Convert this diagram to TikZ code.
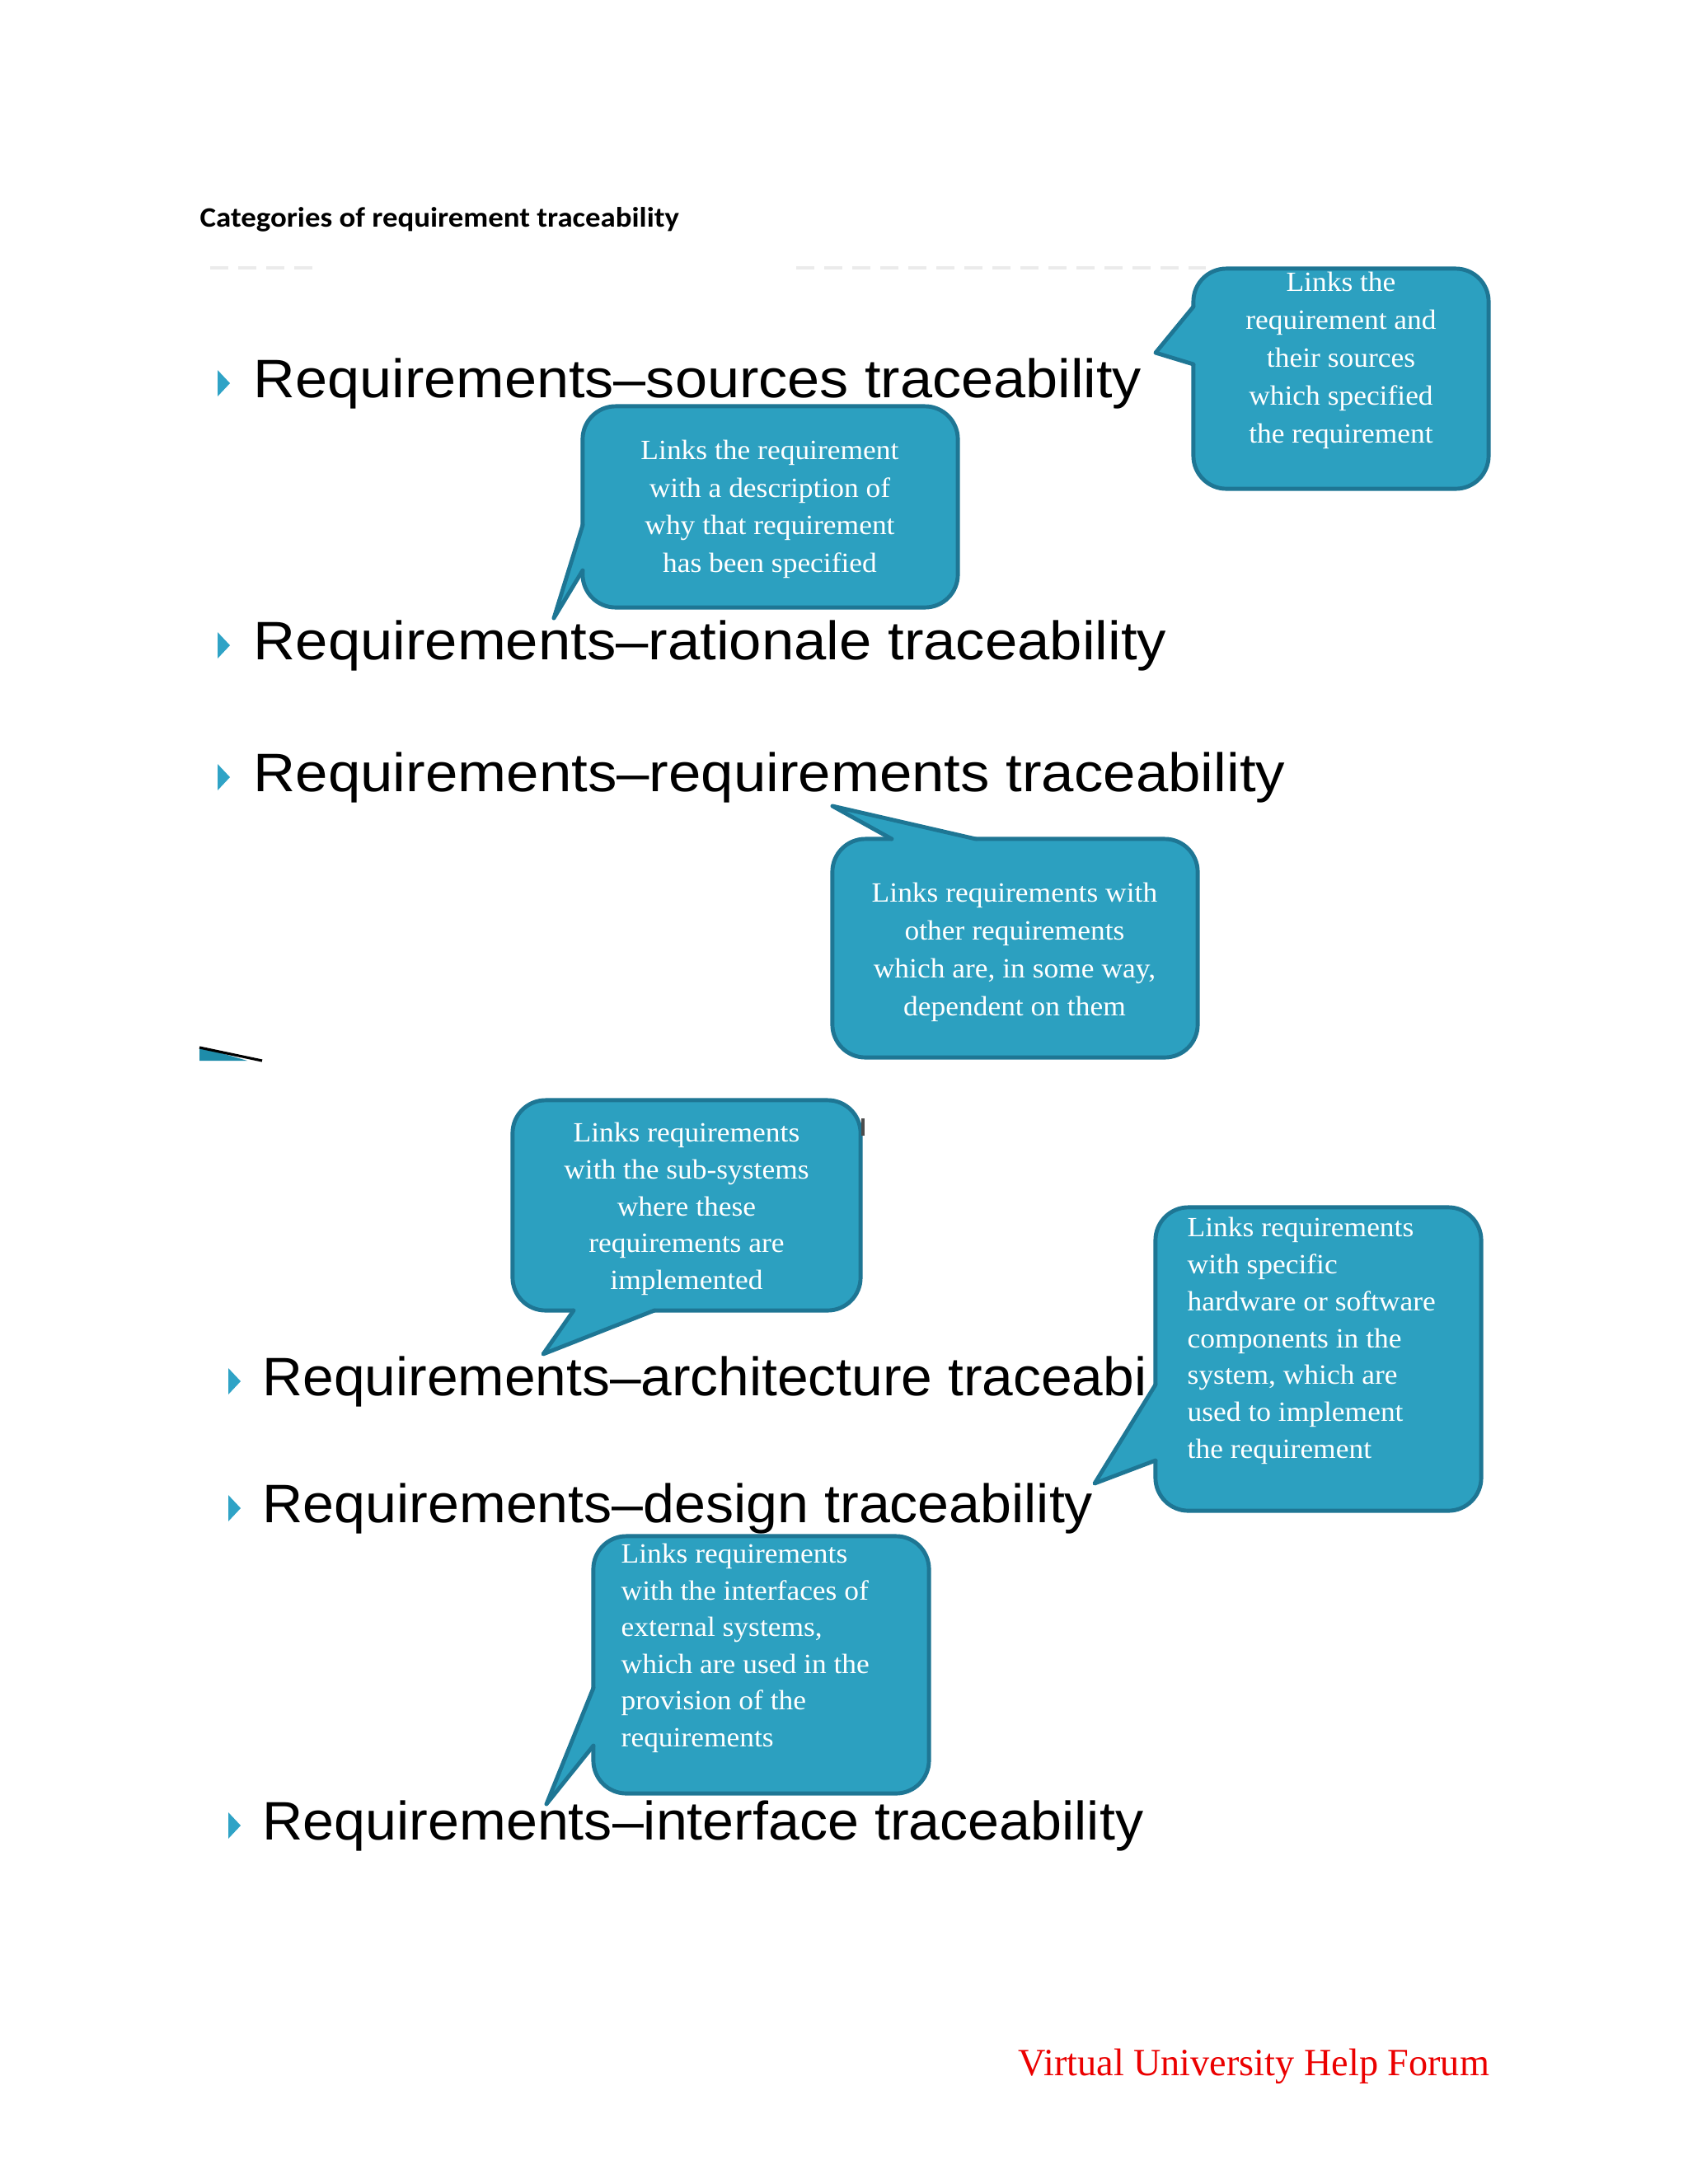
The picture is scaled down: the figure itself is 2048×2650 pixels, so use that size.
\documentclass[tikz,border=0pt]{standalone}
\usepackage{fontspec}
\setmainfont{Liberation Serif}
\newfontfamily\itemfont{Liberation Sans}
\newfontfamily\titlefont{Carlito}
\newfontfamily\boxfont[FakeStretch=1.05]{Liberation Serif}
\usepackage{graphicx}
\newsavebox\fitbox
\newcommand\fitwidth[2]{\sbox\fitbox{#2}\pgfmathsetmacro\fitratio{(#1)/(\the\wd\fitbox)}\scalebox{\fitratio}[1]{\usebox\fitbox}}
\definecolor{calloutfill}{RGB}{44,160,192}
\definecolor{calloutedge}{RGB}{30,118,148}
\definecolor{bulletteal}{RGB}{47,163,198}
\definecolor{wedgeteal}{RGB}{30,140,170}
\definecolor{footred}{RGB}{235,0,0}
\tikzset{
  calloutbox/.style={rectangle, rounded corners=0.4cm, fill=calloutfill, draw=calloutedge, line width=1.4pt, inner sep=0pt, outer sep=0pt},
  tailfill/.style={fill=calloutfill},
  tailedge/.style={draw=calloutedge, line width=1.4pt, line join=round, line cap=round},
  itemlabel/.style={anchor=base west, inner sep=0pt, font=\itemfont\fontsize{18.7pt}{22pt}\selectfont},
  bulletmark/.style={fill=bulletteal},
  boxtext/.style={text=white, inner sep=0pt, font=\boxfont\fontsize{9.6pt}{#1}\selectfont},
  faintdash/.style={draw=black!8, line width=1.1pt, dash pattern=on 0.22cm off 0.12cm},
}
\begin{document}
\begin{tikzpicture}[x=0.01cm,y=-0.01cm]
\useasboundingbox (0,0) rectangle (2048,2650);
\fill[white] (0,0) rectangle (2048,2650);
% title
\node[anchor=base west, inner sep=0pt, font=\titlefont\bfseries\fontsize{9.7pt}{12pt}\selectfont] (title) at (242,275) {\fitwidth{5.81cm}{Categories of requirement traceability}};
% faint remnants of the slide heading
\draw[faintdash] (255,325) -- (380,325);
\draw[faintdash] (966,325) -- (1463,325);
% bullets
\fill[bulletmark] (264,449) -- (279,465) -- (264,481) -- cycle;
\fill[bulletmark] (264,767) -- (279,783) -- (264,799) -- cycle;
\fill[bulletmark] (264,927) -- (279,943) -- (264,959) -- cycle;
\fill[bulletmark] (277,1660) -- (292,1676) -- (277,1692) -- cycle;
\fill[bulletmark] (277,1814) -- (292,1830) -- (277,1846) -- cycle;
\fill[bulletmark] (277,2199) -- (292,2215) -- (277,2231) -- cycle;
% items
\node[itemlabel] (it1) at (307,482) {\fitwidth{10.77cm}{Requirements–sources traceability}};
\node[itemlabel] (it2) at (307,800) {\fitwidth{11.07cm}{Requirements–rationale traceability}};
\node[itemlabel] (it3) at (307,960) {\fitwidth{12.51cm}{Requirements–requirements traceability}};
\node[itemlabel] (it4) at (318,1693) {\fitwidth{10.72cm}{Requirements–architecture traceabi}};
\node[itemlabel] (it5) at (318,1847) {\fitwidth{10.07cm}{Requirements–design traceability}};
\node[itemlabel] (it6) at (318,2232) {\fitwidth{10.68cm}{Requirements–interface traceability}};
% small wedge at the left
\fill[wedgeteal] (242,1270) -- (300,1287) -- (242,1287) -- cycle;
\draw[black, line width=0.9pt] (242,1271) -- (318,1287);
% callout A (sources)
\node[calloutbox, minimum width=3.58cm, minimum height=2.67cm] (boxA) at (1627,459.5) {};
\fill[tailfill] (1448,442) -- (1402,428) -- (1448,372) -- (1455,372) -- (1455,442) -- cycle;
\draw[tailedge] (1448,442) -- (1402,428) -- (1448,372);
\node[boxtext=13.1pt, align=center] (ta) at (1627,437) {Links the\\requirement and\\their sources\\which specified\\the requirement};
% callout B (rationale)
\node[calloutbox, minimum width=4.55cm, minimum height=2.44cm] (boxB) at (934.5,615) {};
\fill[tailfill] (707,692) -- (672,750) -- (707,637) -- (714,637) -- (714,692) -- cycle;
\draw[tailedge] (707,692) -- (672,750) -- (707,637);
\node[boxtext=13.0pt, align=center] (tb) at (934,618) {Links the requirement\\with a description of\\why that requirement\\has been specified};
% callout C (requirements)
\node[calloutbox, minimum width=4.43cm, minimum height=2.65cm] (boxC) at (1231.5,1150.5) {};
\fill[tailfill] (1082,1018) -- (1010,978) -- (1184,1018) -- (1184,1025) -- (1082,1025) -- cycle;
\draw[tailedge] (1082,1018) -- (1010,978) -- (1184,1018);
\node[boxtext=13.1pt, align=center] (tc) at (1231,1155) {Links requirements with\\other requirements\\which are, in some way,\\dependent on them};
% callout D (architecture)
\node[calloutbox, minimum width=4.22cm, minimum height=2.55cm] (boxD) at (833,1462.5) {};
\fill[tailfill] (794,1590) -- (659,1643) -- (696,1590) -- (696,1583) -- (794,1583) -- cycle;
\draw[tailedge] (794,1590) -- (659,1643) -- (696,1590);
\node[boxtext=12.75pt, align=center] (td) at (833,1467) {Links requirements\\with the sub-systems\\where these\\requirements are\\implemented};
\draw[black!70, line width=0.9pt] (1047,1357) -- (1047,1378);
% callout E (design)
\node[calloutbox, minimum width=3.95cm, minimum height=3.68cm] (boxE) at (1599.5,1649) {};
\fill[tailfill] (1402,1772) -- (1328,1800) -- (1402,1680) -- (1409,1680) -- (1409,1772) -- cycle;
\draw[tailedge] (1402,1772) -- (1328,1800) -- (1402,1680);
\node[boxtext=12.75pt, align=left, anchor=west] (te) at (1440,1627) {Links requirements\\with specific\\hardware or software\\components in the\\system, which are\\used to implement\\the requirement};
% callout F (interface)
\node[calloutbox, minimum width=4.07cm, minimum height=3.12cm] (boxF) at (923.5,2020) {};
\fill[tailfill] (720,2118) -- (663,2189) -- (720,2048) -- (727,2048) -- (727,2118) -- cycle;
\draw[tailedge] (720,2118) -- (663,2189) -- (720,2048);
\node[boxtext=12.65pt, align=left, anchor=west] (tf) at (753,2000) {Links requirements\\with the interfaces of\\external systems,\\which are used in the\\provision of the\\requirements};
% footer
\node[anchor=base west, inner sep=0pt, text=footred, font=\fontsize{13.3pt}{16pt}\selectfont] (foot) at (1235,2518) {\fitwidth{5.71cm}{Virtual University Help Forum}};
\end{tikzpicture}
\end{document}
